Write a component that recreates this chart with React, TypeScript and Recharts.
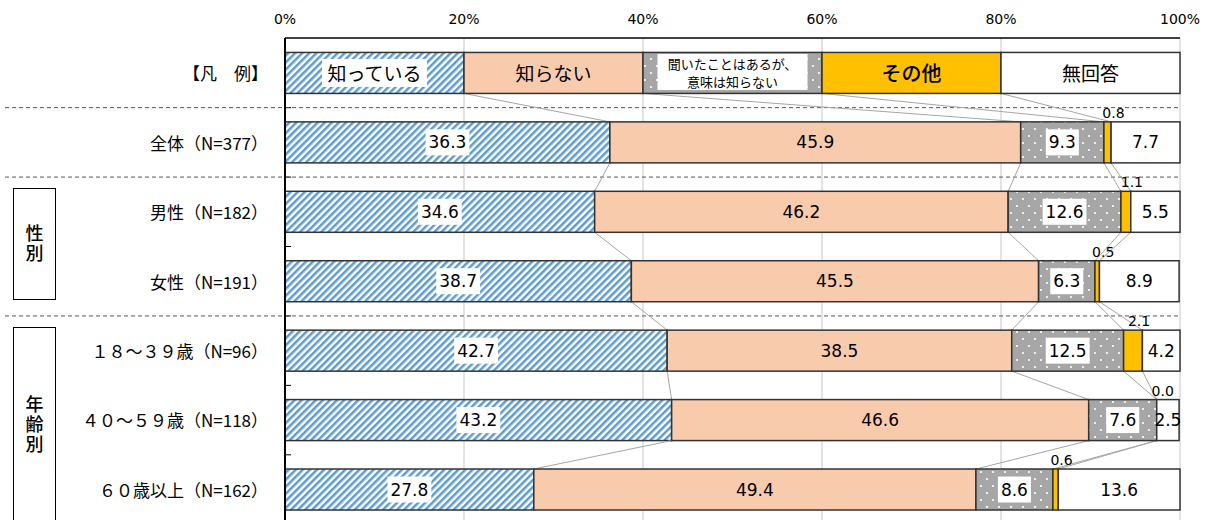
import React from 'react';
import { BarChart, Bar, XAxis, YAxis, CartesianGrid } from 'recharts';

const categories = [
  '【凡　例】',
  '全体（N=377）',
  '男性（N=182）',
  '女性（N=191）',
  '１８～３９歳（N=96）',
  '４０～５９歳（N=118）',
  '６０歳以上（N=162）',
];
const seriesNames = ['知っている', '知らない', '聞いたことはあるが、意味は知らない', 'その他', '無回答'];
const known = [20, 36.3, 34.6, 38.7, 42.7, 43.2, 27.8];
const unknown = [20, 45.9, 46.2, 45.5, 38.5, 46.6, 49.4];
const heardOnly = [20, 9.3, 12.6, 6.3, 12.5, 7.6, 8.6];
const other = [20, 0.8, 1.1, 0.5, 2.1, 0.0, 0.6];
const noAnswer = [20, 7.7, 5.5, 8.9, 4.2, 2.5, 13.6];
const xTicks = [0, 20, 40, 60, 80, 100];
const separatedRows = [1, 2, 4];
const groups = [
  { label: '性別', first: 2, last: 3 },
  { label: '年齢別', first: 4, last: 6 },
];

const series = [known, unknown, heardOnly, other, noAnswer];
const keys = ['k1', 'k2', 'k3', 'k4', 'k5'];

const data = categories.map((name, i) => ({
  name,
  k1: known[i],
  k2: unknown[i],
  k3: heardOnly[i],
  k4: other[i],
  k5: noAnswer[i],
}));

const NUM_FONT = "'DejaVu Sans', 'Noto Sans CJK JP', sans-serif";
const JP_FONT = "'Noto Sans CJK JP', 'DejaVu Sans', sans-serif";
const NUM_SIZE = 17;

const fills = ['url(#hatchBlue)', '#F8CBAD', 'url(#dotsGray)', '#FFC000', '#FFFFFF'];
const STROKE = '#333333';

const geo: Record<number, { top: number; bottom: number; origin: number; px: number }> = {};

function textW(s: string, fs: number) {
  let w = 0;
  for (const c of s) w += c === '.' ? 0.318 : 0.636;
  return w * fs;
}

function NumLabel({ cx, cy, text, bg, size = NUM_SIZE }: any) {
  const w = textW(text, size) + 6;
  return (
    <g>
      {bg && <rect x={cx - w / 2} y={cy - 13} width={w} height={26} fill="#fff" />}
      <text
        x={cx}
        y={cy}
        textAnchor="middle"
        dominantBaseline="central"
        fontFamily={NUM_FONT}
        fontSize={size}
        fill="#000"
      >
        {text}
      </text>
    </g>
  );
}

function cum(row: number, upto: number) {
  let s = 0;
  for (let j = 0; j < upto; j++) s += series[j][row];
  return s;
}

function legendLabel(k: number, cx: number, cy: number) {
  if (k === 0) {
    const w = 5 * 19 + 10;
    return (
      <g>
        <rect x={cx - w / 2} y={cy - 14} width={w} height={28} fill="#fff" />
        <text x={cx} y={cy} textAnchor="middle" dominantBaseline="central" fontFamily={JP_FONT} fontSize={19}>
          {seriesNames[0]}
        </text>
      </g>
    );
  }
  if (k === 2) {
    const w = 150;
    return (
      <g>
        <rect x={cx - w / 2} y={cy - 19} width={w} height={36} fill="#fff" />
        <text x={cx} y={cy - 9} textAnchor="middle" dominantBaseline="central" fontFamily={JP_FONT} fontSize={13}>
          聞いたことはあるが、
        </text>
        <text x={cx} y={cy + 9} textAnchor="middle" dominantBaseline="central" fontFamily={JP_FONT} fontSize={13}>
          意味は知らない
        </text>
      </g>
    );
  }
  return (
    <text x={cx} y={cy} textAnchor="middle" dominantBaseline="central" fontFamily={JP_FONT} fontSize={k === 3 ? 20 : 19} fontWeight={k === 3 ? 500 : 400}>
      {seriesNames[k]}
    </text>
  );
}

function makeShape(k: number) {
  return (props: any) => {
    const { x, y, width, height, payload } = props;
    const i = categories.indexOf(payload.name);
    const v = series[k][i];
    const cx = x + width / 2;
    const cy = y + height / 2;
    const extra: any[] = [];
    if (k === 0) {
      const px = width / v;
      geo[i] = { top: y, bottom: y + height, origin: x, px };
      const prev = geo[i - 1];
      if (prev) {
        const by = (prev.bottom + y) / 2;
        extra.push(<line key="tk" x1={x} x2={x + 6} y1={by} y2={by} stroke="#000" strokeWidth={1} />);
        if (separatedRows.includes(i)) {
          extra.push(
            <line
              key="sep"
              x1={5}
              x2={x + 100 * px}
              y1={by}
              y2={by}
              stroke="#555"
              strokeWidth={1}
              strokeDasharray="4 3"
            />
          );
        }
        for (let j = 1; j <= 4; j++) {
          extra.push(
            <line
              key={'c' + j}
              x1={x + cum(i - 1, j) * px}
              y1={prev.bottom}
              x2={x + cum(i, j) * px}
              y2={y}
              stroke="#A6A6A6"
              strokeWidth={1}
            />
          );
        }
      }
    }
    let label: any = null;
    if (i === 0) {
      label = legendLabel(k, cx, cy);
    } else if (k === 3) {
      label = <NumLabel cx={cx + 6} cy={y - 9} text={v.toFixed(1)} bg={false} size={14} />;
    } else {
      label = <NumLabel cx={cx} cy={cy} text={v.toFixed(1)} bg={k === 0 || k === 2} />;
    }
    return (
      <g>
        {extra}
        {width > 0 && (
          <rect x={x} y={y} width={width} height={height} fill={fills[k]} stroke={STROKE} strokeWidth={1.5} />
        )}
        {label}
      </g>
    );
  };
}

const shapes = keys.map((_, k) => makeShape(k));

const XTick = (props: any) => {
  const { x, y, payload } = props;
  return (
    <text x={x} y={y} textAnchor="middle" fontFamily={NUM_FONT} fontSize={14} fill="#000">
      {payload.value + '%'}
    </text>
  );
};

const YTick = (props: any) => {
  const { x, y, payload } = props;
  return (
    <text x={x} y={y} textAnchor="end" dominantBaseline="central" fontFamily={JP_FONT} fontSize={17} fill="#000">
      {payload.value}
    </text>
  );
};

const CH = 540;
const MT = 38;
const MB = 16;
const GAP = 0.208;
const band = (CH - MT - MB) / categories.length;

export default function App() {
  return (
    <div style={{ position: 'absolute', left: 0, top: 0, width: 1215, height: 520, overflow: 'hidden', background: '#fff' }}>
      <BarChart
        layout="vertical"
        width={1215}
        height={CH}
        data={data}
        margin={{ top: 0, right: 35, bottom: MB, left: 0 }}
        barCategoryGap={`${GAP * 100}%`}
      >
        <defs>
          <pattern id="hatchBlue" patternUnits="userSpaceOnUse" width={5} height={5} patternTransform="rotate(45)">
            <rect x={0} y={0} width={5} height={5} fill="#fff" />
            <rect x={0} y={0} width={2.5} height={5} fill="#5B9BD5" />
          </pattern>
          <pattern id="dotsGray" patternUnits="userSpaceOnUse" width={12} height={14}>
            <rect x={0} y={0} width={12} height={14} fill="#A6A6A6" />
            <circle cx={3} cy={3} r={1.1} fill="#fff" />
            <circle cx={9} cy={10} r={1.1} fill="#fff" />
          </pattern>
        </defs>
        <CartesianGrid horizontal={false} stroke="#D0D0D0" strokeWidth={1.2} />
        <XAxis
          type="number"
          orientation="top"
          domain={[0, 100]}
          ticks={xTicks}
          interval={0}
          height={MT}
          axisLine={{ stroke: '#000', strokeWidth: 1.5 }}
          tickLine={false}
          tickSize={0}
          tickMargin={14}
          tick={<XTick />}
        />
        <YAxis
          type="category"
          dataKey="name"
          width={285}
          interval={0}
          axisLine={{ stroke: '#000', strokeWidth: 2 }}
          tickLine={false}
          tickSize={0}
          tickMargin={17}
          tick={<YTick />}
        />
        {keys.map((key, k) => (
          <Bar key={key} dataKey={key} stackId="a" isAnimationActive={false} shape={shapes[k]} />
        ))}
      </BarChart>
      {groups.map((g) => {
        const top = MT + g.first * band + band * GAP - 3;
        const isLast = g.last === categories.length - 1;
        const bottom = isLast ? MT + (g.last + 1) * band - 2 : MT + (g.last + 1) * band - band * GAP - 1;
        return (
          <div
            key={g.label}
            style={{
              position: 'absolute',
              left: 13,
              top,
              width: 43,
              height: bottom - top,
              border: '1.5px solid #000',
              boxSizing: 'border-box',
              display: 'flex',
              alignItems: 'center',
              justifyContent: 'center',
              background: '#fff',
            }}
          >
            <span
              style={{
                writingMode: 'vertical-rl',
                fontFamily: JP_FONT,
                fontSize: 18,
                fontWeight: 500,
                letterSpacing: 2,
                lineHeight: '20px',
              }}
            >
              {g.label}
            </span>
          </div>
        );
      })}
    </div>
  );
}
